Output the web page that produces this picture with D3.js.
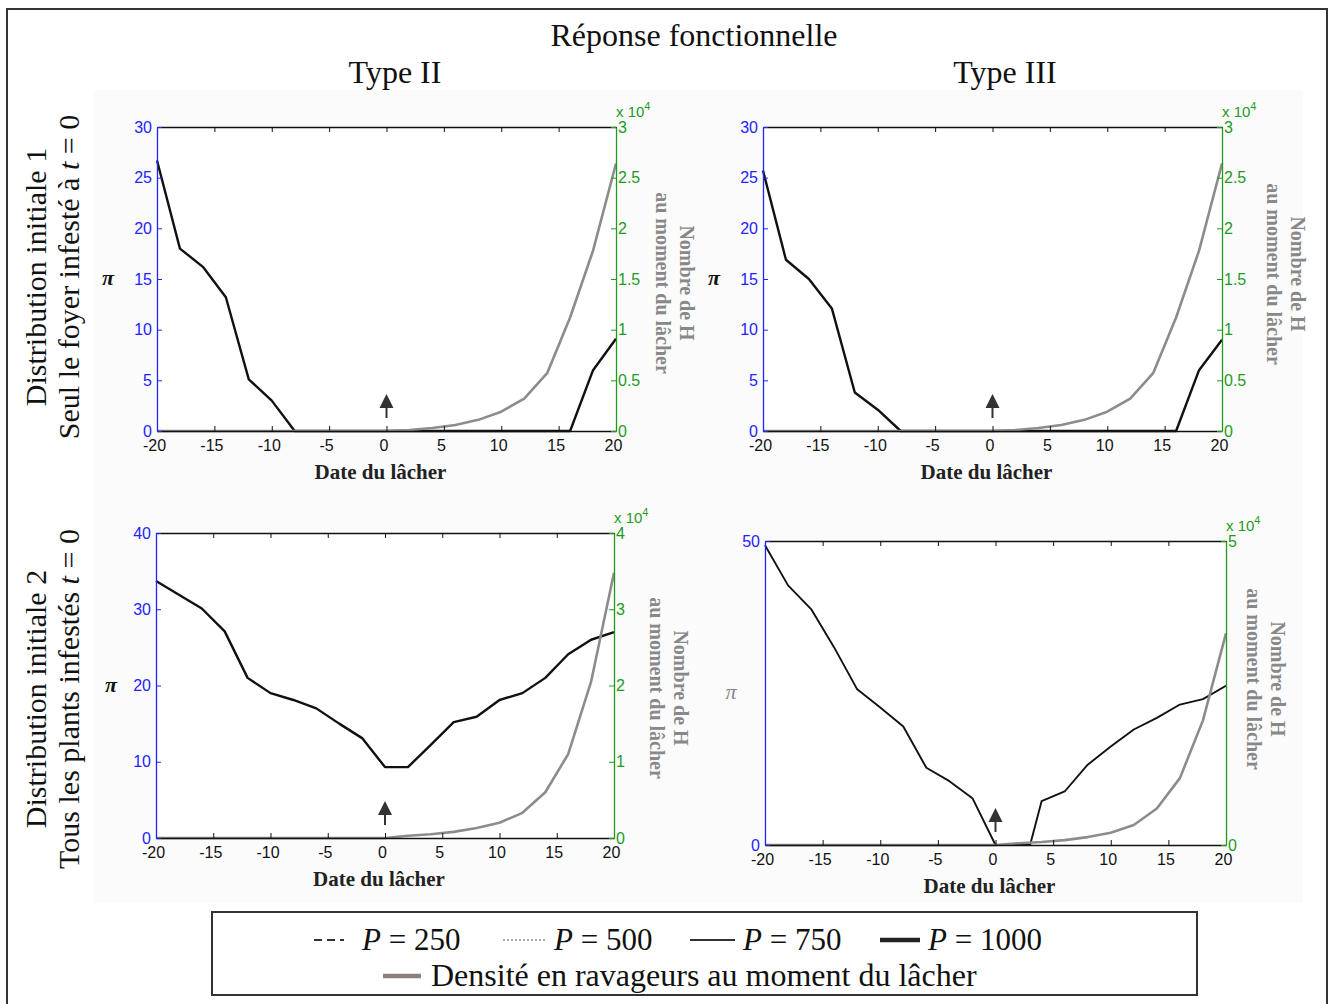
<!DOCTYPE html>
<html><head><meta charset="utf-8">
<script src="https://cdn.jsdelivr.net/npm/d3@7/dist/d3.min.js"></script>
<style>body{margin:0;background:#fff}svg{display:block}</style>
</head><body>
<script>
// ---------- data ----------
const days = [-20,-18,-16,-14,-12,-10,-8,-6,-4,-2,0,2,4,6,8,10,12,14,16,18,20];
const daysP4 = [-20,-18,-16,-14,-12,-10,-8,-6,-4,-2,0,2,3,4,6,8,10,12,14,16,18,20];
const xTicks = [-20,-15,-10,-5,0,5,10,15,20];

// pi (left axis) for each panel
const piDist1TypeII  = [26.7,18.0,16.2,13.2,5.1,3.0,0,0,0,0,0,0,0,0,0,0,0,0,0,6.0,9.1];
const piDist1TypeIII = [25.7,16.9,15.0,12.1,3.8,2.1,0,0,0,0,0,0,0,0,0,0,0,0,0,6.0,9.0];
const piDist2TypeII  = [33.7,31.9,30.1,27.1,21.0,19.0,18.1,17.0,15.0,13.1,9.3,9.3,12.2,15.2,15.9,18.1,19.0,21.0,24.1,26.0,27.0];
const piDist2TypeIII = [49.3,42.7,38.8,32.5,25.6,22.6,19.5,12.7,10.5,7.7,0,0,0,7.2,8.8,13.2,16.2,19.0,20.9,23.1,24.0,26.2];

// pest density at release (right axis, x 10^4)
const densDist1 = [0,0,0,0,0,0,0,0,0,0,0,0.01,0.03,0.06,0.11,0.19,0.32,0.57,1.12,1.78,2.64];
const densDist2 = [0,0,0,0,0,0,0,0,0,0,0,0.03,0.05,0.08,0.13,0.20,0.33,0.60,1.10,2.05,3.48];

const leftTicksA = [0,5,10,15,20,25,30];
const rightTicksA = [0,0.5,1,1.5,2,2.5,3];
const leftTicksB = [0,10,20,30,40];
const rightTicksB = [0,1,2,3,4];
const leftTicksC = [0,50];
const rightTicksC = [0,5];

const title = "Réponse fonctionnelle";
const colTitles = ["Type II","Type III"];
const rowTitles = [["Distribution initiale 1","Seul le foyer infesté à ","t"," = 0"],
                   ["Distribution initiale 2","Tous les plants infestés ","t"," = 0"]];

// ---------- layout ----------
const W = 1329, H = 1004;
const svg = d3.select("body").append("svg").attr("width",W).attr("height",H);
const serif = "'Liberation Serif','Times New Roman',serif";
const sans = "'Liberation Sans',Arial,sans-serif";
const BLUE = "#2323ff", GREEN = "#1f9a1f";

svg.append("rect").attr("x",0).attr("y",0).attr("width",W).attr("height",H).attr("fill","#fff");
svg.append("rect").attr("x",93).attr("y",90).attr("width",1210).attr("height",813).attr("fill","#fbfbfb");
svg.append("rect").attr("x",7).attr("y",9).attr("width",1320).attr("height",1010)
  .attr("fill","none").attr("stroke","#333").attr("stroke-width",2);

svg.append("text").attr("x",694).attr("y",46).attr("text-anchor","middle")
  .attr("font-family",serif).attr("font-size",32).attr("fill","#111").text(title);
[[395,colTitles[0]],[1005,colTitles[1]]].forEach(([x,t])=>{
  svg.append("text").attr("x",x).attr("y",83).attr("text-anchor","middle")
    .attr("font-family",serif).attr("font-size",32).attr("fill","#111").text(t);
});
[[277,rowTitles[0]],[699,rowTitles[1]]].forEach(([cy,r])=>{
  const g = svg.append("g").attr("transform",`translate(0,${cy}) rotate(-90)`);
  g.append("text").attr("x",0).attr("y",46).attr("text-anchor","middle")
    .attr("font-family",serif).attr("font-size",30).attr("fill","#111").text(r[0]);
  const t2 = g.append("text").attr("x",0).attr("y",79).attr("text-anchor","middle")
    .attr("font-family",serif).attr("font-size",30).attr("fill","#111");
  t2.append("tspan").text(r[1]);
  t2.append("tspan").attr("font-style","italic").text(r[2]);
  t2.append("tspan").text(r[3]);
});

const panels = [
  {x0:157,x1:616,y0:127,y1:431,xs:days,pi:piDist1TypeII,dens:densDist1,lMax:30,rMax:3,lT:leftTicksA,rT:rightTicksA,
   piX:108,lab1:656,lab2:680,labY:283,piColor:"#111",piBold:true,lw:2.4},
  {x0:763,x1:1222,y0:127,y1:431,xs:days,pi:piDist1TypeIII,dens:densDist1,lMax:30,rMax:3,lT:leftTicksA,rT:rightTicksA,
   piX:714,lab1:1268,lab2:1291,labY:274,piColor:"#111",piBold:true,lw:2.4},
  {x0:156,x1:614,y0:533,y1:838,xs:days,pi:piDist2TypeII,dens:densDist2,lMax:40,rMax:4,lT:leftTicksB,rT:rightTicksB,
   piX:111,lab1:649,lab2:674,labY:688,piColor:"#111",piBold:true,lw:2.4},
  {x0:765,x1:1226,y0:541,y1:845,xs:daysP4,pi:piDist2TypeIII,dens:densDist2,lMax:50,rMax:5,lT:leftTicksC,rT:rightTicksC,
   piX:731,lab1:1246,lab2:1271,labY:679,piColor:"#888",piBold:false,lw:1.9}
];

panels.forEach(p=>{
  const g = svg.append("g");
  const x = d3.scaleLinear().domain([-20,20]).range([p.x0,p.x1]);
  const yl = d3.scaleLinear().domain([0,p.lMax]).range([p.y1,p.y0]);
  const yr = d3.scaleLinear().domain([0,p.rMax]).range([p.y1,p.y0]);
  g.append("rect").attr("x",p.x0).attr("y",p.y0).attr("width",p.x1-p.x0).attr("height",p.y1-p.y0).attr("fill","#fff");

  // lines: pi (black) then density (gray) on top
  const lineL = d3.line().x((d,i)=>x(p.xs[i])).y(d=>yl(d));
  g.append("path").datum(p.pi).attr("d",lineL).attr("fill","none").attr("stroke","#111")
    .attr("stroke-width",p.lw).attr("stroke-linejoin","round");
  const lineR = d3.line().x((d,i)=>x(days[i])).y(d=>yr(d));
  g.append("path").datum(p.dens).attr("d",lineR).attr("fill","none").attr("stroke","#8c8c8c")
    .attr("stroke-width",2.6).attr("stroke-linejoin","round");

  // axes
  const fmt = d=>String(d);
  const bottom = g.append("g").attr("transform",`translate(0,${p.y1})`)
    .call(d3.axisBottom(x).tickValues(xTicks).tickFormat(fmt).tickSizeInner(-5).tickSizeOuter(0).tickPadding(9));
  bottom.select(".domain").attr("stroke","#111").attr("stroke-width",1.3);
  bottom.selectAll("line").attr("stroke","#111");
  bottom.selectAll("text").attr("font-family",sans).attr("font-size",16).attr("fill","#111");
  bottom.selectAll(".tick text").attr("dx",-3);
  const top = g.append("g").attr("transform",`translate(0,${p.y0})`)
    .call(d3.axisTop(x).tickValues(xTicks).tickFormat("").tickSizeInner(-5).tickSizeOuter(0));
  top.select(".domain").attr("stroke","#111").attr("stroke-width",1.3);
  top.selectAll("line").attr("stroke","#111");
  const left = g.append("g").attr("transform",`translate(${p.x0},0)`)
    .call(d3.axisLeft(yl).tickValues(p.lT).tickFormat(fmt).tickSizeInner(-5).tickSizeOuter(0).tickPadding(5));
  left.select(".domain").attr("stroke",BLUE).attr("stroke-width",1.3);
  left.selectAll("line").attr("stroke",BLUE);
  left.selectAll("text").attr("font-family",sans).attr("font-size",16).attr("fill",BLUE);
  const right = g.append("g").attr("transform",`translate(${p.x1},0)`)
    .call(d3.axisRight(yr).tickValues(p.rT).tickFormat(fmt).tickSizeInner(-5).tickSizeOuter(0).tickPadding(2));
  right.select(".domain").attr("stroke",GREEN).attr("stroke-width",1.3);
  right.selectAll("line").attr("stroke",GREEN);
  right.selectAll("text").attr("font-family",sans).attr("font-size",16).attr("fill",GREEN);

  // x 10^4
  const ex = g.append("text").attr("x",p.x1).attr("y",p.y0-10).attr("font-family",sans)
    .attr("font-size",15).attr("fill",GREEN);
  ex.append("tspan").text("x 10");
  ex.append("tspan").attr("dy",-7).attr("font-size",11).text("4");

  // axis labels
  g.append("text").attr("x",(p.x0+p.x1)/2-6).attr("y",p.y1+48).attr("text-anchor","middle")
    .attr("font-family",serif).attr("font-weight","bold").attr("font-size",21).attr("fill","#222").text("Date du lâcher");
  g.append("text").attr("x",p.piX).attr("y",(p.y0+p.y1)/2+6).attr("text-anchor","middle")
    .attr("font-family",serif).attr("font-style","italic").attr("font-weight",p.piBold?"bold":"normal")
    .attr("font-size",22).attr("fill",p.piColor).text("π");
  const rg = g.append("g").attr("transform",`translate(${p.lab2},${p.labY}) rotate(90)`);
  rg.append("text").attr("x",0).attr("y",0).attr("text-anchor","middle").attr("font-family",serif)
    .attr("font-weight","bold").attr("font-size",20).attr("fill","#888").text("Nombre de H");
  rg.append("text").attr("x",0).attr("y",24).attr("text-anchor","middle").attr("font-family",serif)
    .attr("font-weight","bold").attr("font-size",20).attr("fill","#888").text("au moment du lâcher");

  // release arrow at day 0
  const ax = x(0), ay = p.y1 - 13;
  g.append("line").attr("x1",ax).attr("x2",ax).attr("y1",ay).attr("y2",ay-12).attr("stroke","#333").attr("stroke-width",2);
  g.append("path").attr("d",`M${ax-7},${ay-10} L${ax+7},${ay-10} L${ax},${ay-24} Z`).attr("fill","#333");
});

// ---------- legend ----------
const lg = svg.append("g");
lg.append("rect").attr("x",212).attr("y",912).attr("width",985).attr("height",83)
  .attr("fill","#fff").attr("stroke","#333").attr("stroke-width",2);
const legendItems = [
  {x1:314,x2:344,dash:"8,5",w:2,c:"#333",tx:362,label:"250"},
  {x1:503,x2:545,dash:"2,2",w:2,c:"#aaa",tx:554,label:"500"},
  {x1:690,x2:735,dash:null,w:2,c:"#333",tx:743,label:"750"},
  {x1:880,x2:920,dash:null,w:4.5,c:"#222",tx:928,label:"1000"}
];
legendItems.forEach(it=>{
  const l = lg.append("line").attr("x1",it.x1).attr("x2",it.x2).attr("y1",940).attr("y2",940)
    .attr("stroke",it.c).attr("stroke-width",it.w);
  if(it.dash) l.attr("stroke-dasharray",it.dash);
  const t = lg.append("text").attr("x",it.tx).attr("y",950).attr("font-family",serif).attr("font-size",31).attr("fill","#111");
  t.append("tspan").attr("font-style","italic").text("P");
  t.append("tspan").text(" = "+it.label);
});
lg.append("line").attr("x1",383).attr("x2",421).attr("y1",976).attr("y2",976).attr("stroke","#8a7f7f").attr("stroke-width",4.5);
lg.append("text").attr("x",431).attr("y",986).attr("font-family",serif).attr("font-size",32).attr("fill","#111")
  .text("Densité en ravageurs au moment du lâcher");
</script>
</body></html>
